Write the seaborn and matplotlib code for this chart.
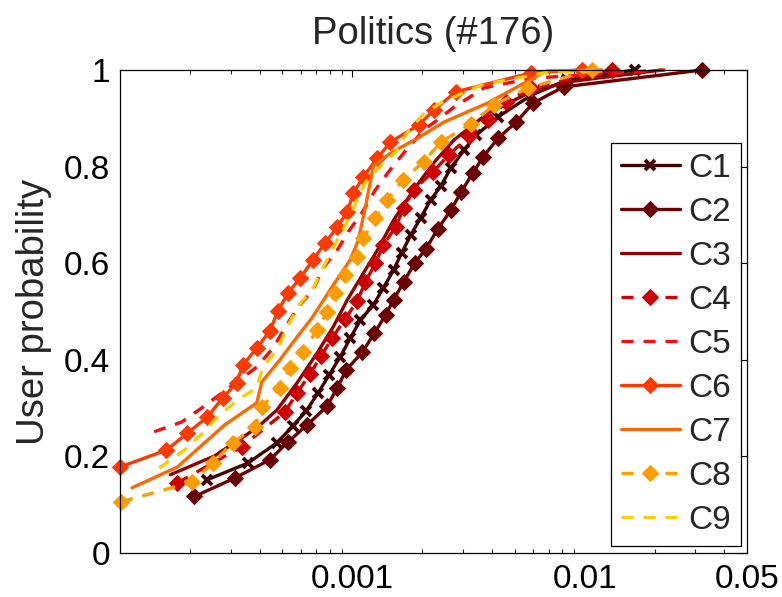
import numpy as np
import pandas as pd
import matplotlib
matplotlib.use("Agg")
import matplotlib.pyplot as plt
import matplotlib.ticker as mticker
import seaborn as sns

# ---------------- data ----------------
c1_x = [2.357e-4, 3.547e-4, 4.735e-4, 5.554e-4, 6.322e-4, 7.126e-4, 7.951e-4, 8.873e-4, 9.802e-4,
        1.083e-3, 1.233e-3, 1.362e-3, 1.505e-3, 1.630e-3, 1.783e-3, 1.970e-3, 2.176e-3, 2.404e-3,
        2.657e-3, 3.024e-3, 3.408e-3, 4.243e-3, 5.897e-3, 8.359e-3, 1.647e-2]
c1_y = [0.151, 0.186, 0.228, 0.263, 0.294, 0.331, 0.369, 0.406, 0.445, 0.482, 0.514, 0.549, 0.586,
        0.621, 0.658, 0.694, 0.731, 0.760, 0.797, 0.834, 0.865, 0.903, 0.948, 0.979, 1.0]

c2_x = [2.091e-4, 3.115e-4, 4.416e-4, 5.284e-4, 6.386e-4, 7.795e-4, 8.612e-4, 9.419e-4, 1.105e-3,
        1.245e-3, 1.390e-3, 1.505e-3, 1.663e-3, 1.855e-3, 2.070e-3, 2.333e-3, 2.657e-3, 2.935e-3,
        3.307e-3, 3.654e-3, 4.243e-3, 5.076e-3, 6.015e-3, 8.113e-3, 3.210e-2]
c2_y = [0.117, 0.155, 0.193, 0.230, 0.265, 0.304, 0.342, 0.379, 0.416, 0.455, 0.493, 0.524, 0.561,
        0.600, 0.629, 0.671, 0.710, 0.747, 0.787, 0.820, 0.859, 0.892, 0.932, 0.965, 1.0]

c3_x = [1.646e-4, 2.553e-4, 3.879e-4, 4.735e-4, 5.780e-4, 7.055e-4, 8.274e-4, 9.515e-4, 1.105e-3,
        1.283e-3, 1.505e-3, 1.837e-3, 2.242e-3, 2.737e-3, 3.841e-3, 5.897e-3, 8.359e-3, 2.154e-2]
c3_y = [0.162, 0.201, 0.259, 0.296, 0.352, 0.414, 0.468, 0.524, 0.576, 0.627, 0.689, 0.752, 0.808,
        0.855, 0.911, 0.955, 0.975, 1.0]

c4_x = [1.765e-4, 3.340e-4, 5.129e-4, 5.780e-4, 6.580e-4, 7.342e-4, 8.192e-4, 9.327e-4, 1.051e-3,
        1.138e-3, 1.258e-3, 1.362e-3, 1.535e-3, 1.663e-3, 1.837e-3, 2.220e-3, 2.604e-3, 3.178e-3,
        3.841e-3, 4.595e-3, 5.897e-3, 1.309e-2]
c4_y = [0.145, 0.220, 0.292, 0.331, 0.371, 0.408, 0.445, 0.485, 0.522, 0.561, 0.600, 0.638, 0.675,
        0.714, 0.752, 0.789, 0.824, 0.863, 0.897, 0.934, 0.963, 1.0]

c5_x = [1.404e-4, 1.837e-4, 2.242e-4, 3.879e-4, 4.550e-4, 5.129e-4, 5.837e-4, 6.780e-4, 7.490e-4,
        8.612e-4, 9.610e-4, 1.105e-3, 1.258e-3, 1.431e-3, 1.663e-3, 2.029e-3, 2.333e-3, 2.737e-3,
        3.691e-3, 5.897e-3, 2.220e-2]
c5_y = [0.251, 0.271, 0.300, 0.385, 0.424, 0.466, 0.509, 0.545, 0.590, 0.627, 0.665, 0.706, 0.752,
        0.789, 0.828, 0.876, 0.897, 0.923, 0.963, 0.983, 1.0]

c6_x = [1.0e-4, 1.582e-4, 1.950e-4, 2.380e-4, 2.764e-4, 3.178e-4, 3.374e-4, 3.879e-4, 4.416e-4,
        4.782e-4, 5.284e-4, 5.955e-4, 6.780e-4, 7.641e-4, 8.612e-4, 9.515e-4, 1.010e-3, 1.116e-3,
        1.283e-3, 1.460e-3, 1.931e-3, 2.242e-3, 2.792e-3, 5.897e-3, 9.705e-3]
c6_y = [0.178, 0.213, 0.248, 0.282, 0.321, 0.352, 0.389, 0.424, 0.460, 0.501, 0.538, 0.569, 0.607,
        0.642, 0.675, 0.706, 0.745, 0.779, 0.818, 0.851, 0.886, 0.917, 0.955, 0.994, 1.0]

c7_x = [1.127e-4, 1.765e-4, 2.820e-4, 3.879e-4, 4.077e-4, 4.878e-4, 5.780e-4, 6.712e-4, 8.031e-4,
        9.802e-4, 1.062e-3, 1.138e-3, 1.233e-3, 1.460e-3, 1.911e-3, 2.477e-3, 3.841e-3, 6.847e-3,
        1.185e-2]
c7_y = [0.135, 0.178, 0.265, 0.311, 0.354, 0.400, 0.447, 0.487, 0.545, 0.607, 0.648, 0.716, 0.801,
        0.828, 0.859, 0.892, 0.932, 0.998, 1.0]

c8_x = [1.01e-4, 2.049e-4, 2.502e-4, 3.054e-4, 3.803e-4, 4.077e-4, 4.878e-4, 5.390e-4, 6.136e-4,
        7.055e-4, 7.795e-4, 8.440e-4, 9.327e-4, 1.051e-3, 1.116e-3, 1.258e-3, 1.417e-3, 1.646e-3,
        2.029e-3, 2.404e-3, 3.242e-3, 4.077e-3, 5.723e-3, 1.072e-2]
c8_y = [0.106, 0.147, 0.186, 0.228, 0.261, 0.302, 0.342, 0.383, 0.416, 0.462, 0.499, 0.538, 0.576,
        0.613, 0.652, 0.694, 0.731, 0.772, 0.810, 0.851, 0.888, 0.928, 0.963, 1.0]

c9_x = [1.475e-4, 1.893e-4, 2.265e-4, 2.630e-4, 3.210e-4, 3.879e-4, 4.118e-4, 4.735e-4, 5.232e-4,
        5.837e-4, 6.780e-4, 7.490e-4, 8.274e-4, 9.327e-4, 1.010e-3, 1.138e-3, 1.296e-3, 1.535e-3,
        1.730e-3, 2.009e-3, 2.404e-3, 3.582e-3, 6.712e-3, 1.185e-2]
c9_y = [0.176, 0.213, 0.248, 0.282, 0.317, 0.342, 0.385, 0.420, 0.466, 0.511, 0.549, 0.590, 0.632,
        0.679, 0.714, 0.768, 0.797, 0.830, 0.872, 0.907, 0.932, 0.969, 0.994, 1.0]

series_names = ["C1", "C2", "C3", "C4", "C5", "C6", "C7", "C8", "C9"]
series_x = [c1_x, c2_x, c3_x, c4_x, c5_x, c6_x, c7_x, c8_x, c9_x]
series_y = [c1_y, c2_y, c3_y, c4_y, c5_y, c6_y, c7_y, c8_y, c9_y]

x_ticks = [0.001, 0.01, 0.05]
x_ticklabels = ["0.001", "0.01", "0.05"]
y_ticks = [0, 0.2, 0.4, 0.6, 0.8, 1.0]
y_ticklabels = ["0", "0.2", "0.4", "0.6", "0.8", "1"]

# ---------------- styles ----------------
colors = ["#400000", "#6b0000", "#920000", "#cc0000", "#ff0a0a",
          "#ff3a00", "#ff6a00", "#ff9c00", "#ffcc00"]
dash = (0, (3.6, 3.0))
styles = [
    dict(marker="x", markersize=7.5, markeredgewidth=2.8, linestyle="-"),
    dict(marker="D", markersize=8, linestyle="-"),
    dict(marker=None, linestyle="-"),
    dict(marker="D", markersize=8, linestyle=dash),
    dict(marker=None, linestyle=dash),
    dict(marker="D", markersize=8, linestyle="-"),
    dict(marker=None, linestyle="-"),
    dict(marker="D", markersize=8, linestyle=dash),
    dict(marker=None, linestyle=dash),
]

sns.set_theme(style="white")
plt.rcParams["font.family"] = ["Liberation Sans", "DejaVu Sans"]
plt.rcParams["axes.edgecolor"] = "black"
plt.rcParams["axes.linewidth"] = 0.9

fig = plt.figure(figsize=(7.82, 5.97), dpi=100)
ax = fig.add_axes([120 / 782, 44 / 597, 627 / 782, 483 / 597])

for name, xs, ys, col, st in zip(series_names, series_x, series_y, colors, styles):
    df = pd.DataFrame({"x": xs, "y": ys})
    kw = dict(st)
    mk = kw.pop("marker")
    if mk is not None:
        kw["marker"] = mk
        kw["markeredgecolor"] = col
        kw["markerfacecolor"] = col
    sns.lineplot(data=df, x="x", y="y", ax=ax, color=col, linewidth=2.4,
                 estimator=None, sort=False, label=name, clip_on=False, **kw)

ax.set_xscale("log")
ax.set_xlim(1e-4, 0.05)
ax.set_ylim(0, 1)
ax.set_xticks(x_ticks)
ax.set_xticklabels(x_ticklabels)
ax.xaxis.set_minor_locator(mticker.LogLocator(base=10, subs=np.arange(2, 10), numticks=20))
ax.xaxis.set_minor_formatter(mticker.NullFormatter())
ax.set_yticks(y_ticks)
ax.set_yticklabels(y_ticklabels)

ax.tick_params(axis="both", which="major", direction="in", length=5, width=0.8,
               top=True, right=True, labelsize=24, colors="black", pad=7)
ax.tick_params(axis="x", which="minor", direction="in", length=3, width=0.8,
               top=True, bottom=True)
ax.tick_params(axis="x", which="major", pad=8)

ax.set_xlabel("")
ax.set_ylabel("User probability", fontsize=27.5, labelpad=9)
ax.set_title("Politics (#176)", fontsize=27.5, pad=19)

for sp in ax.spines.values():
    sp.set_visible(True)
    sp.set_color("black")

leg = ax.legend(loc="lower right", bbox_to_anchor=(0.990, 0.015), fontsize=24,
                frameon=True, fancybox=False, edgecolor="black", framealpha=1,
                handlelength=1.75, handletextpad=0.25, labelspacing=0.39,
                borderpad=0.3, borderaxespad=0, numpoints=1)
leg.get_frame().set_linewidth(0.9)

fig.savefig("out.png", dpi=100)
